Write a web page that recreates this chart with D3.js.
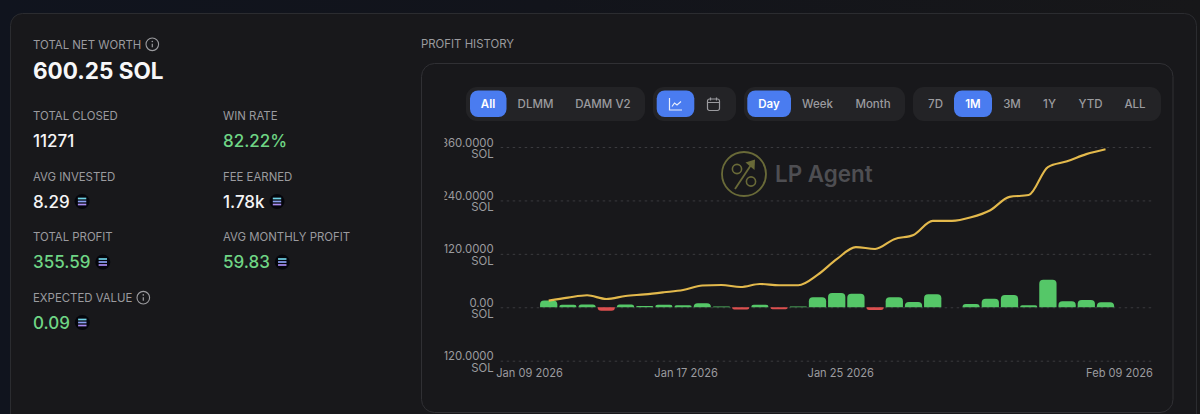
<!DOCTYPE html>
<html>
<head>
<meta charset="utf-8">
<script src="https://cdn.jsdelivr.net/npm/d3@7"></script>
<style>
  html, body { margin: 0; padding: 0; background: #10131b; overflow: hidden; }
  svg { display: block; }
  text { font-family: Inter, "Noto Sans", sans-serif; }
</style>
</head>
<body>
<svg id="chart" width="1200" height="414"></svg>
<script>
// chart data
const dates = ['Jan 09 2026','Jan 10 2026','Jan 11 2026','Jan 12 2026','Jan 13 2026','Jan 14 2026','Jan 15 2026','Jan 16 2026',
  'Jan 17 2026','Jan 18 2026','Jan 19 2026','Jan 20 2026','Jan 21 2026','Jan 22 2026','Jan 23 2026','Jan 24 2026',
  'Jan 25 2026','Jan 26 2026','Jan 27 2026','Jan 28 2026','Jan 29 2026','Jan 30 2026','Jan 31 2026','Feb 01 2026',
  'Feb 02 2026','Feb 03 2026','Feb 04 2026','Feb 05 2026','Feb 06 2026','Feb 07 2026','Feb 08 2026','Feb 09 2026'];
const barDates = dates.slice(1, 31);
const dailyProfit = [15, 5.5, 6.5, -8, 6, 3, 5.5, 4.5, 9, 2, -5, 5.5, -4.5, 1.5, 22.5, 32, 30.5, -6, 22.5, 12, 29, 0, 7.5, 19, 27.7, 4.5, 62, 13.5, 16.5, 11.3];
const cumulative = [15, 21.6, 27, 18.6, 25.4, 29, 33.7, 38.9, 49, 50, 45.6, 52.4, 49.4, 49.4, 72.6, 108, 135, 131, 153, 162.5, 194, 194, 202, 218, 248, 252, 315, 328, 344, 355];
const yTicks = [360, 240, 120, 0, -120];
const xTickLabels = ['Jan 09 2026', 'Jan 17 2026', 'Jan 25 2026', 'Feb 09 2026'];

// stat blocks on the left
const stats = [
  { label: 'TOTAL CLOSED', value: '11271', col: 0, row: 0, color: '#f4f4f5' },
  { label: 'WIN RATE', value: '82.22%', col: 1, row: 0, color: '#6fd585' },
  { label: 'AVG INVESTED', value: '8.29', col: 0, row: 1, color: '#f4f4f5', sol: 1 },
  { label: 'FEE EARNED', value: '1.78k', col: 1, row: 1, color: '#f4f4f5', sol: 1 },
  { label: 'TOTAL PROFIT', value: '355.59', col: 0, row: 2, color: '#6fd585', sol: 1 },
  { label: 'AVG MONTHLY PROFIT', value: '59.83', col: 1, row: 2, color: '#6fd585', sol: 1 },
  { label: 'EXPECTED VALUE', value: '0.09', col: 0, row: 3, color: '#6fd585', sol: 1, info: 1 }
];

// toolbar groups
const toolbar = [
  { x0: 466, x1: 645, items: [['All', 488, 470, 506.5, true], ['DLMM', 535.5, 0, 0, false], ['DAMM V2', 603, 0, 0, false]] },
  { x0: 653, x1: 736, items: [['line', 675.5, 656.7, 694.3, true], ['cal', 713.5, 0, 0, false]] },
  { x0: 744, x1: 905, items: [['Day', 769, 747.3, 791, true], ['Week', 817.5, 0, 0, false], ['Month', 873, 0, 0, false]] },
  { x0: 913, x1: 1161, items: [['7D', 935.5, 0, 0, false], ['1M', 973, 954, 992, true], ['3M', 1012, 0, 0, false], ['1Y', 1049.5, 0, 0, false], ['YTD', 1090.5, 0, 0, false], ['ALL', 1135, 0, 0, false]] }
];

const svg = d3.select('#chart');
const muted = '#9b9b9f';

// page background goes from navy on the left to neutral on the right
const grad = svg.append('defs').append('linearGradient').attr('id', 'page-bg');
grad.append('stop').attr('offset', '0').attr('stop-color', '#10141e');
grad.append('stop').attr('offset', '0.45').attr('stop-color', '#12141b');
grad.append('stop').attr('offset', '1').attr('stop-color', '#171719');

// background cards
svg.append('rect').attr('width', 1200).attr('height', 414).attr('fill', 'url(#page-bg)');
svg.append('rect').attr('x', 10.5).attr('y', 13.5).attr('width', 1186).attr('height', 430).attr('rx', 12)
  .attr('fill', '#18181b').attr('stroke', '#2b2c30');
svg.append('rect').attr('x', 421.5).attr('y', 63.5).attr('width', 751.5).attr('height', 349).attr('rx', 13)
  .attr('fill', '#18181b').attr('stroke', '#303034');

function infoIcon(cx, cy) {
  const g = svg.append('g').attr('transform', `translate(${cx},${cy})`);
  g.append('circle').attr('r', 6.3).attr('fill', 'none').attr('stroke', muted).attr('stroke-width', 1.1);
  g.append('line').attr('y1', -0.5).attr('y2', 3).attr('stroke', muted).attr('stroke-width', 1.2);
  g.append('circle').attr('cy', -2.8).attr('r', 0.8).attr('fill', muted);
}

function solIcon(cx, cy) {
  const g = svg.append('g').attr('transform', `translate(${cx},${cy})`);
  g.append('circle').attr('r', 7.5).attr('fill', '#05060c');
  [['#6fd3e6', -3], ['#8aa0f2', 0], ['#a98cf2', 3]].forEach(s => {
    g.append('line').attr('x1', -4.2).attr('x2', 4.2).attr('y1', s[1]).attr('y2', s[1])
      .attr('stroke', s[0]).attr('stroke-width', 1.7);
  });
}

// left column
svg.append('text').attr('x', 33).attr('y', 48.5).attr('fill', muted).attr('font-size', 11.4).text('TOTAL NET WORTH');
infoIcon(152.3, 44.3);
svg.append('text').attr('x', 33).attr('y', 79).attr('fill', '#f7f7f8').attr('font-size', 22.5).attr('font-weight', 700).text('600.25 SOL');

const colX = [33, 223];
const rowY = [120, 180.5, 241, 301.5];
stats.forEach(s => {
  const x = colX[s.col], y = rowY[s.row];
  svg.append('text').attr('x', x).attr('y', y).attr('fill', muted).attr('font-size', 11.4).text(s.label);
  const t = svg.append('text').attr('x', x).attr('y', y + 27).attr('fill', s.color)
    .attr('font-size', 17).attr('font-weight', 500).text(s.value);
  const w = t.node().getComputedTextLength();
  if (s.sol) solIcon(x + w + 12.4, y + 21);
  if (s.info) infoIcon(143.3, y - 3.8);
});

svg.append('text').attr('x', 421).attr('y', 48).attr('fill', muted).attr('font-size', 11.4).text('PROFIT HISTORY');

// toolbar
toolbar.forEach(group => {
  svg.append('rect').attr('x', group.x0).attr('y', 87).attr('width', group.x1 - group.x0).attr('height', 34)
    .attr('rx', 11).attr('fill', '#232326');
  group.items.forEach(it => {
    const [name, cx, b0, b1, active] = it;
    if (active) {
      svg.append('rect').attr('x', b0).attr('y', 90.5).attr('width', b1 - b0).attr('height', 26.5)
        .attr('rx', 8).attr('fill', '#4a7cf0');
    }
    if (name === 'line') {
      const g = svg.append('g').attr('transform', `translate(${cx},104)`).attr('fill', 'none').attr('stroke', '#e8eefc').attr('stroke-width', 1.2);
      g.append('path').attr('d', 'M-6,-6V6H6.5');
      g.append('path').attr('d', 'M-3.5,2.5L-1,-1L1.5,1L5.5,-2.5');
    } else if (name === 'cal') {
      const g = svg.append('g').attr('transform', `translate(${cx},104)`).attr('fill', 'none').attr('stroke', muted).attr('stroke-width', 1.2);
      g.append('rect').attr('x', -6).attr('y', -5).attr('width', 12).attr('height', 11.5).attr('rx', 2);
      g.append('path').attr('d', 'M-6,-1.5H6M-3,-6.5V-3.5M3,-6.5V-3.5');
    } else {
      svg.append('text').attr('x', cx).attr('y', 108.2).attr('text-anchor', 'middle')
        .attr('fill', active ? '#ffffff' : muted).attr('font-size', 11.5)
        .attr('font-weight', active ? 600 : 500).text(name);
    }
  });
});

// scales
const gridX0 = 500.7, gridX1 = 1151.7;
const x = d3.scaleBand().domain(dates).range([519.9, 1134.3]).paddingInner(0.1).paddingOuter(0.05);
const y = d3.scaleLinear().domain([-120, 360]).range([360.7, 147]);
const cx = d => x(d) + x.bandwidth() / 2;

// watermark sits under the marks
const mark = svg.append('g').attr('transform', 'translate(744,174)').attr('fill', 'none').attr('stroke', '#696a38');
mark.append('circle').attr('r', 22).attr('stroke-width', 1.8);
mark.append('circle').attr('cx', -7).attr('cy', -5).attr('r', 4.6).attr('stroke-width', 1.6);
mark.append('circle').attr('cx', 7).attr('cy', 7.5).attr('r', 4.6).attr('stroke-width', 1.6);
mark.append('path').attr('d', 'M-9,15L9,-12').attr('stroke-width', 1.8);
mark.append('path').attr('d', 'M1.5,-11.5L11,-14.5L10.5,-4Z').attr('fill', '#696a38').attr('stroke', 'none');
svg.append('text').attr('x', 775).attr('y', 182).attr('fill', '#4e4e52').attr('font-size', 22.4).attr('font-weight', 600).text('LP Agent');

// y axis: two line labels, the long ones get cut off on the left like in the app
svg.append('clipPath').attr('id', 'tick-clip').append('rect')
  .attr('x', 444.5 - gridX0).attr('y', -20).attr('width', 60).attr('height', 40);
const yAxis = svg.append('g').attr('transform', `translate(${gridX0},0)`)
  .call(d3.axisLeft(y).tickValues(yTicks).tickSize(0).tickPadding(7).tickFormat(d => d === 0 ? '0.00' : d.toFixed(4)));
yAxis.select('.domain').remove();
yAxis.selectAll('.tick line').attr('x2', gridX1 - gridX0).attr('stroke', '#3a3a3e').attr('stroke-dasharray', '2.5 3.5');
yAxis.selectAll('.tick text').each(function () {
  const t = d3.select(this), label = t.text();
  t.text(null).attr('fill', muted).attr('font-size', 11.4).attr('font-family', 'Inter, "Noto Sans", sans-serif')
    .attr('dy', null).attr('clip-path', 'url(#tick-clip)');
  t.append('tspan').attr('x', -7).attr('y', -1).text(label);
  t.append('tspan').attr('x', -7).attr('y', 10.4).text('SOL');
});

// x labels
const xAxis = svg.append('g').attr('transform', 'translate(0,376.5)')
  .call(d3.axisBottom(x).tickValues(xTickLabels).tickSize(0).tickPadding(0));
xAxis.select('.domain').remove();
xAxis.selectAll('.tick text').attr('fill', muted).attr('font-size', 11.1).attr('y', 0).attr('dy', 0)
  .attr('font-family', 'Inter, "Noto Sans", sans-serif');
xAxis.selectAll('.tick').filter(d => d === 'Feb 09 2026').select('text')
  .attr('text-anchor', 'end').attr('x', 1153 - cx('Feb 09 2026'));
// middle labels sit a little right of their bands
xAxis.selectAll('.tick').filter(d => d === 'Jan 17 2026').select('text').attr('x', 3);
xAxis.selectAll('.tick').filter(d => d === 'Jan 25 2026').select('text').attr('x', 4);

// bars, rounded on the outer end
function barPath(d, v) {
  const b = x(d), w = x.bandwidth(), y0 = y(0), y1 = y(v);
  const h = Math.abs(y1 - y0), r = Math.min(4, h, w / 2), s = v >= 0 ? 1 : -1;
  return `M${b},${y0}V${y1 + s * r}Q${b},${y1} ${b + r},${y1}H${b + w - r}Q${b + w},${y1} ${b + w},${y1 + s * r}V${y0}Z`;
}
svg.append('g').selectAll('path').data(barDates).join('path')
  .attr('d', (d, i) => barPath(d, dailyProfit[i]))
  .attr('fill', (d, i) => dailyProfit[i] >= 0 ? '#55c768' : '#dc4f4f');

// cumulative line
const line = d3.line().x((d, i) => cx(barDates[i])).y(d => y(d)).curve(d3.curveMonotoneX);
svg.append('path').datum(cumulative).attr('d', line).attr('fill', 'none')
  .attr('stroke', '#e3b94c').attr('stroke-width', 2.1).attr('stroke-linejoin', 'round');
</script>
</body>
</html>
